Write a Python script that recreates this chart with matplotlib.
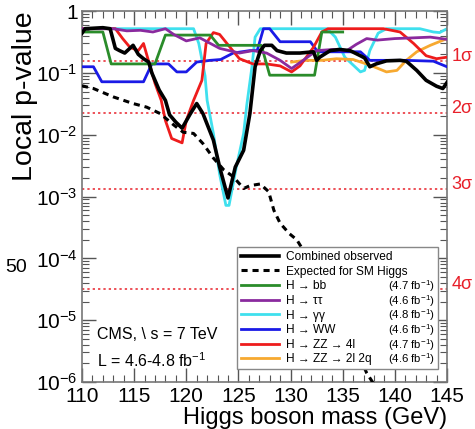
import numpy as np
import matplotlib.pyplot as plt
from matplotlib.ticker import FixedLocator, FixedFormatter, MultipleLocator, LogLocator, NullFormatter

plt.rcParams['font.family'] = ['Liberation Sans', 'DejaVu Sans']
plt.rcParams['mathtext.fontset'] = 'custom'
plt.rcParams['mathtext.rm'] = 'Liberation Sans'
plt.rcParams['mathtext.it'] = 'Liberation Sans:italic'

# combined observed
m_obs = [110.0, 110.3, 112.0, 112.7, 113.2, 113.6, 114.1, 114.9, 115.4, 115.9, 116.4, 116.7,
         117.4, 118.0, 118.4, 119.0, 119.6, 120.4, 121.0, 121.6, 122.6, 123.2, 124.0, 124.7,
         125.5, 126.1, 126.6, 127.1, 127.5, 128.2, 128.7, 129.6, 130.9, 132.2, 132.5, 132.8,
         133.8, 134.7, 135.7, 136.7, 137.1, 137.6, 138.2, 139.2, 140.5, 141.1, 142.1, 143.0,
         144.0, 144.6, 145.0]
p_obs = [0.44, 0.52, 0.54, 0.52, 0.25, 0.23, 0.21, 0.28, 0.20, 0.17, 0.15, 0.10,
         0.053, 0.036, 0.021, 0.016, 0.0128, 0.022, 0.032, 0.022, 0.0082, 0.003, 0.00095, 0.003,
         0.0056, 0.022, 0.126, 0.23, 0.28, 0.28, 0.23, 0.21, 0.21, 0.22, 0.16, 0.18,
         0.23, 0.24, 0.23, 0.19, 0.175, 0.126, 0.14, 0.157, 0.16, 0.155, 0.11, 0.076,
         0.061, 0.056, 0.07]

# expected for SM Higgs
m_exp = [110.0, 111.1, 113.0, 114.9, 116.2, 117.5, 118.8, 119.7, 120.7, 121.6, 122.6, 123.6,
         124.5, 125.5, 126.1, 127.1, 127.9, 128.4, 129.0, 129.9, 130.6, 132.5, 135.0, 137.3, 139.0]
p_exp = [0.062, 0.056, 0.041, 0.032, 0.028, 0.022, 0.0144, 0.011, 0.0105, 0.0072, 0.0042, 0.0027,
         0.0021, 0.00135, 0.0015, 0.0016, 0.0012, 0.0006, 0.00037, 0.00025, 0.0002, 6e-5, 1e-5, 1.4e-6, 5e-7]

# H -> bb
m_bb = [110.0, 112.0, 112.8, 117.0, 118.0, 122.3, 123.1, 127.2, 128.0, 132.3, 133.0, 135.0]
p_bb = [0.46, 0.46, 0.14, 0.14, 0.41, 0.41, 0.28, 0.28, 0.092, 0.092, 0.46, 0.46]

# H -> tautau
m_tt = [110.0, 113.0, 114.3, 115.6, 116.8, 118.0, 118.8, 120.0, 121.3, 123.2, 125.1, 126.4,
        127.7, 129.0, 130.1, 131.2, 132.5, 134.1, 135.4, 136.3, 137.3, 138.3, 140.0, 141.8, 143.4, 145.0]
p_tt = [0.52, 0.52, 0.48, 0.49, 0.46, 0.52, 0.42, 0.33, 0.37, 0.25, 0.21, 0.23,
        0.21, 0.16, 0.118, 0.16, 0.23, 0.24, 0.23, 0.29, 0.36, 0.34, 0.36, 0.37, 0.38, 0.35]

# H -> gamma gamma
m_gg = [110.0, 120.7, 121.2, 121.8, 122.0, 122.6, 123.2, 123.8, 124.1, 124.8, 125.5, 125.8,
        126.3, 126.6, 127.1, 133.5, 134.3, 135.2, 136.7, 137.1, 137.6, 138.4, 139.2, 142.4,
        143.7, 144.3, 145.0]
p_gg = [0.52, 0.52, 0.3, 0.09, 0.036, 0.0105, 0.0023, 0.00072, 0.00072, 0.003, 0.0105, 0.03,
        0.126, 0.38, 0.52, 0.52, 0.38, 0.18, 0.104, 0.11, 0.23, 0.44, 0.52, 0.52,
        0.46, 0.45, 0.52]

# H -> WW
m_ww = [110.0, 111.1, 111.9, 115.9, 116.7, 118.3, 119.1, 120.0, 121.0, 122.3, 123.3, 124.5,
        126.1, 126.8, 127.4, 128.0, 129.0, 131.9, 132.6, 136.7, 137.6, 141.1, 143.7, 145.0]
p_ww = [0.126, 0.126, 0.072, 0.072, 0.14, 0.14, 0.104, 0.104, 0.15, 0.16, 0.165, 0.21,
        0.23, 0.23, 0.52, 0.52, 0.32, 0.32, 0.22, 0.22, 0.16, 0.16, 0.155, 0.126]

# H -> ZZ -> 4l
m_4l = [110.0, 113.2, 113.9, 114.6, 115.4, 115.9, 116.2, 117.0, 117.6, 118.0, 118.6, 119.6,
        120.0, 120.7, 121.5, 121.9, 122.6, 123.2, 124.2, 125.1, 126.4, 127.7, 129.0, 130.1,
        130.9, 132.2, 133.0, 133.6, 138.9, 140.5, 141.8, 143.0, 144.0, 145.0]
p_4l = [0.52, 0.52, 0.36, 0.26, 0.23, 0.3, 0.2, 0.068, 0.036, 0.017, 0.0087, 0.0074,
        0.017, 0.036, 0.076, 0.3, 0.45, 0.42, 0.26, 0.17, 0.14, 0.14, 0.13, 0.104,
        0.13, 0.26, 0.46, 0.52, 0.52, 0.46, 0.3, 0.19, 0.17, 0.18]

# H -> ZZ -> 2l2q
m_2q = [130.1, 131.5, 133.0, 134.4, 136.0, 137.6, 139.2, 140.2, 141.1, 142.1, 143.4, 145.0]
p_2q = [0.15, 0.16, 0.16, 0.17, 0.165, 0.134, 0.104, 0.11, 0.16, 0.22, 0.28, 0.36]

lumis = ['(4.7 fb$^{-1}$)', '(4.6 fb$^{-1}$)', '(4.8 fb$^{-1}$)',
         '(4.6 fb$^{-1}$)', '(4.7 fb$^{-1}$)', '(4.6 fb$^{-1}$)']
sigma_p = [0.1587, 0.02275, 0.00135, 3.17e-5]
sigma_lbl = ['1σ', '2σ', '3σ', '4σ']

fig = plt.figure(figsize=(4.75, 4.29), dpi=100)
ax = fig.add_axes([0.1726, 0.1096, 0.7684, 0.8644])

for p in sigma_p:
    ax.axhline(p, color='#e8202a', ls=(0, (1.5, 2)), lw=1.1, zorder=1)

ax.plot(m_gg, p_gg, color='#3fe0ee', lw=2, zorder=2, label='H → γγ')
ax.plot(m_ww, p_ww, color='#1a1ae6', lw=2, zorder=3, label='H → WW')
ax.plot(m_4l, p_4l, color='#ee1c1c', lw=2, zorder=3, label='H → ZZ → 4l')
ax.plot(m_2q, p_2q, color='#f7a930', lw=2, zorder=2, label='H → ZZ → 2l 2q')
ax.plot(m_bb, p_bb, color='#2a8c2a', lw=2, zorder=4, label='H → bb')
ax.plot(m_tt, p_tt, color='#8a2a9e', lw=2, zorder=4, label='H → ττ')
ax.plot(m_exp, p_exp, color='black', lw=2.2, ls=(0, (2, 1.6)), zorder=5, label='Expected for SM Higgs')
ax.plot(m_obs, p_obs, color='black', lw=2.6, zorder=6, label='Combined observed')

ax.set_xlim(110, 145)
ax.set_ylim(1e-6, 1)
ax.set_yscale('log')

yt = [1, 1e-1, 1e-2, 1e-3, 1e-4, 1e-5, 1e-6]
ax.yaxis.set_major_locator(FixedLocator(yt))
ax.yaxis.set_major_formatter(FixedFormatter(['1'] + ['$10^{-%d}$' % k for k in range(1, 7)]))
ax.yaxis.set_minor_locator(LogLocator(base=10, subs=np.arange(2, 10)))
ax.yaxis.set_minor_formatter(NullFormatter())
ax.xaxis.set_major_locator(MultipleLocator(5))
ax.xaxis.set_minor_locator(MultipleLocator(1))

ax.tick_params(which='both', direction='in', top=True, right=True, labelsize=15, color='#555555')
ax.tick_params(which='major', length=10, width=1)
ax.tick_params(which='minor', length=5, width=0.8)
ax.tick_params(axis='y', pad=3)
for s in ax.spines.values():
    s.set_color('#777777')
    s.set_linewidth(1.2)

ax.set_xlabel('Higgs boson mass (GeV)', fontsize=17, labelpad=1, loc='right')
ax.set_ylabel('Local p-value', fontsize=20.5, loc='top')
ax.yaxis.set_label_coords(-0.12, 1.0)

for p, lbl in zip(sigma_p, sigma_lbl):
    ax.text(1.012, p, lbl, transform=ax.get_yaxis_transform(), color='#e8202a',
            fontsize=13, va='baseline', ha='left')

ax.text(0.04, 0.115, 'CMS, \\ s = 7 TeV', transform=ax.transAxes, fontsize=11.5)
ax.text(0.04, 0.04, 'L = 4.6-4.8 fb$^{-1}$', transform=ax.transAxes, fontsize=11.5)

h, l = ax.get_legend_handles_labels()
order = [7, 6, 4, 5, 0, 1, 2, 3]
leg = ax.legend([h[i] for i in order], [l[i] for i in order], loc='lower left',
                bbox_to_anchor=(0.425, 0.035, 0.55, 0.34), mode='expand',
                fontsize=8.6, frameon=True, fancybox=False,
                edgecolor='#888888', framealpha=1, borderaxespad=0, handlelength=3.2,
                labelspacing=0.22, borderpad=0.3, handletextpad=0.6)
leg.get_frame().set_linewidth(1.0)
leg.set_zorder(10)

# luminosity column on the right side of the legend
fig.canvas.draw()
lb = leg.get_window_extent().transformed(ax.transAxes.inverted())
for t, lumi in zip(leg.get_texts()[2:], lumis):
    bb = t.get_window_extent().transformed(ax.transAxes.inverted())
    ax.text(lb.x1 - 0.008, (bb.y0 + bb.y1) / 2, lumi, transform=ax.transAxes,
            fontsize=8.2, ha='right', va='center', zorder=11)

fig.text(0.01, 0.365, '50', fontsize=14)

fig.savefig('out.png', dpi=100)
